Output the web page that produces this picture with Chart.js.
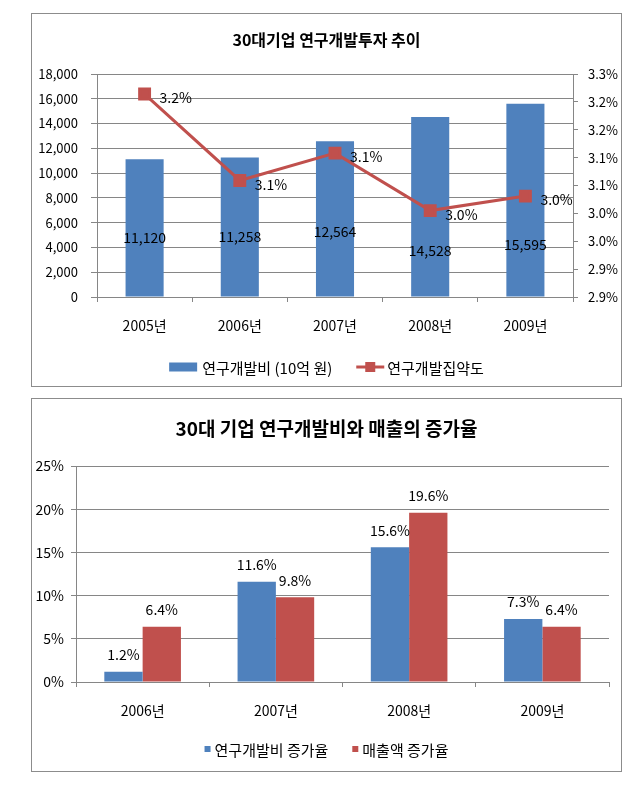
<!DOCTYPE html>
<html>
<head>
    <meta charset="utf-8">
    <title>30대 기업 연구개발</title>
    <style>
        body {
            margin: 0;
            background: #fff;
            font-family: 'Noto Sans CJK KR', sans-serif;
        }

        .chart-box {
            position: absolute;
            left: 31px;
            width: 589px;
            height: 372px;
            border: 1px solid #8c8c8c;
        }

        #box1 { top: 13px; }
        #box2 { top: 398px; }

        canvas { display: block; }
    </style>
    <script src="https://cdn.jsdelivr.net/npm/chart.js"></script>
</head>
<body>

    <div class="chart-box" id="box1"><canvas id="rdChart" width="589" height="372"></canvas></div>
    <div class="chart-box" id="box2"><canvas id="growthChart" width="589" height="372"></canvas></div>

    <script>
        // chart 1 data
        const years1 = ['2005년', '2006년', '2007년', '2008년', '2009년'];
        const rdSpend = [11120, 11258, 12564, 14528, 15595];
        const rdIntensity = [3.264, 3.109, 3.158, 3.055, 3.081];
        const intensityLabels = ['3.2%', '3.1%', '3.1%', '3.0%', '3.0%'];
        const rightTickLabels = ['2.9%', '2.9%', '3.0%', '3.0%', '3.1%', '3.1%', '3.2%', '3.2%', '3.3%'];

        // chart 2 data
        const years2 = ['2006년', '2007년', '2008년', '2009년'];
        const rdGrowth = [1.2, 11.6, 15.6, 7.3];
        const salesGrowth = [6.4, 9.8, 19.6, 6.4];

        const FONT = "'Noto Sans CJK KR', sans-serif";
        const BLUE = '#4F81BD';
        const RED = '#C0504D';
        const GRID = '#868686';

        Chart.defaults.font.family = FONT;
        Chart.defaults.font.size = 13;
        Chart.defaults.color = '#000';

        // title + legend drawn inside the frame
        const frameText = {
            id: 'frameText',
            afterDraw(chart, args, opts) {
                const ctx = chart.ctx;
                ctx.save();
                ctx.fillStyle = '#000';
                ctx.textBaseline = 'middle';
                ctx.textAlign = 'center';
                ctx.font = 'bold ' + opts.titleSize + 'px ' + FONT;
                ctx.fillText(opts.title, chart.width / 2, opts.titleY);

                ctx.font = opts.legendSize + 'px ' + FONT;
                ctx.textAlign = 'left';
                const items = opts.items;
                const widths = items.map(it => it.w + it.gap + ctx.measureText(it.text).width);
                const total = widths.reduce((a, b) => a + b, 0) + opts.itemGap * (items.length - 1);
                let x = (chart.width - total) / 2;
                const y = opts.legendY;
                items.forEach((it, i) => {
                    ctx.fillStyle = it.color;
                    if (it.type === 'line') {
                        ctx.strokeStyle = it.color;
                        ctx.lineWidth = 3;
                        ctx.beginPath();
                        ctx.moveTo(x, y);
                        ctx.lineTo(x + it.w, y);
                        ctx.stroke();
                        ctx.fillRect(x + it.w / 2 - 5, y - 5, 10, 10);
                    } else {
                        ctx.fillRect(x, y - it.h / 2, it.w, it.h);
                    }
                    ctx.fillStyle = '#000';
                    ctx.fillText(it.text, x + it.w + it.gap, y + 1);
                    x += widths[i] + opts.itemGap;
                });
                ctx.restore();
            }
        };

        const rdLabels = {
            id: 'rdLabels',
            afterDatasetsDraw(chart) {
                const ctx = chart.ctx;
                const yScale = chart.scales.y;
                // where Excel left the bar labels, in axis units
                const anchor = [4760, 4840, 5250, 3710, 4200];
                ctx.save();
                ctx.fillStyle = '#000';
                ctx.textBaseline = 'middle';
                ctx.font = '14px ' + FONT;
                ctx.textAlign = 'center';
                chart.getDatasetMeta(1).data.forEach((bar, i) => {
                    ctx.fillText(rdSpend[i].toLocaleString('en-US'), bar.x, yScale.getPixelForValue(anchor[i]));
                });
                ctx.textAlign = 'left';
                chart.getDatasetMeta(0).data.forEach((pt, i) => {
                    ctx.fillText(intensityLabels[i], pt.x + 15, pt.y + 4);
                });
                ctx.restore();
            }
        };

        const growthLabels = {
            id: 'growthLabels',
            afterDatasetsDraw(chart) {
                const ctx = chart.ctx;
                ctx.save();
                ctx.fillStyle = '#000';
                ctx.textBaseline = 'middle';
                ctx.textAlign = 'center';
                ctx.font = '14px ' + FONT;
                chart.data.datasets.forEach((ds, d) => {
                    chart.getDatasetMeta(d).data.forEach((bar, i) => {
                        ctx.fillText(ds.data[i].toFixed(1) + '%', bar.x, bar.y - 17);
                    });
                });
                ctx.restore();
            }
        };

        const rdChart = new Chart(document.getElementById('rdChart'), {
            type: 'bar',
            data: {
                labels: years1,
                datasets: [{
                    type: 'line',
                    label: '연구개발집약도',
                    data: rdIntensity,
                    yAxisID: 'y1',
                    borderColor: RED,
                    backgroundColor: RED,
                    borderWidth: 3,
                    pointStyle: 'rect',
                    pointRadius: 7,
                    order: 0
                }, {
                    label: '연구개발비 (10억 원)',
                    data: rdSpend,
                    backgroundColor: BLUE,
                    barPercentage: 0.4,
                    categoryPercentage: 1,
                    order: 1
                }]
            },
            options: {
                responsive: false,
                animation: false,
                layout: { padding: { top: 60, left: 0, right: 0, bottom: 49 } },
                plugins: {
                    legend: { display: false },
                    tooltip: { enabled: false },
                    frameText: {
                        title: '30대기업 연구개발투자 추이',
                        titleSize: 16,
                        titleY: 26,
                        legendY: 353,
                        legendSize: 15,
                        itemGap: 24,
                        items: [
                            { type: 'box', color: BLUE, w: 28, h: 9, gap: 5, text: '연구개발비 (10억 원)' },
                            { type: 'line', color: RED, w: 28, gap: 3, text: '연구개발집약도' }
                        ]
                    }
                },
                scales: {
                    x: {
                        afterFit: s => { s.height = 40; },
                        grid: { drawOnChartArea: false, color: GRID, tickLength: 5 },
                        border: { color: GRID },
                        ticks: { padding: 15, font: { size: 14 } }
                    },
                    y: {
                        position: 'left',
                        min: 0,
                        max: 18000,
                        afterFit: s => { s.width = 65; },
                        grid: { color: GRID, tickLength: 6 },
                        border: { color: GRID },
                        ticks: {
                            stepSize: 2000,
                            padding: 13,
                            callback: v => v.toLocaleString('en-US')
                        }
                    },
                    y1: {
                        position: 'right',
                        min: 2.9,
                        max: 3.3,
                        afterFit: s => { s.width = 48; },
                        grid: { drawOnChartArea: false, color: GRID, tickLength: 5 },
                        border: { color: GRID },
                        ticks: {
                            stepSize: 0.05,
                            padding: 10,
                            callback: (v, i) => rightTickLabels[i]
                        }
                    }
                }
            },
            plugins: [frameText, rdLabels]
        });

        const growthChart = new Chart(document.getElementById('growthChart'), {
            type: 'bar',
            data: {
                labels: years2,
                datasets: [{
                    label: '연구개발비 증가율',
                    data: rdGrowth,
                    backgroundColor: BLUE
                }, {
                    label: '매출액 증가율',
                    data: salesGrowth,
                    backgroundColor: RED
                }]
            },
            options: {
                responsive: false,
                animation: false,
                categoryPercentage: 0.575,
                barPercentage: 1,
                layout: { padding: { top: 67, left: 0, right: 12, bottom: 49 } },
                plugins: {
                    legend: { display: false },
                    tooltip: { enabled: false },
                    frameText: {
                        title: '30대 기업 연구개발비와 매출의 증가율',
                        titleSize: 19,
                        titleY: 30,
                        legendY: 350,
                        legendSize: 15,
                        itemGap: 24,
                        items: [
                            { type: 'box', color: BLUE, w: 6, h: 6, gap: 4, text: '연구개발비 증가율' },
                            { type: 'box', color: RED, w: 6, h: 6, gap: 4, text: '매출액 증가율' }
                        ]
                    }
                },
                scales: {
                    x: {
                        afterFit: s => { s.height = 40; },
                        grid: { drawOnChartArea: false, color: GRID, tickLength: 5 },
                        border: { color: GRID },
                        ticks: { padding: 15, font: { size: 14 } }
                    },
                    y: {
                        min: 0,
                        max: 25,
                        afterFit: s => { s.width = 44; },
                        grid: { color: GRID, tickLength: 5 },
                        border: { color: GRID },
                        ticks: {
                            stepSize: 5,
                            padding: 7,
                            font: { size: 14 },
                            callback: v => v + '%'
                        }
                    }
                }
            },
            plugins: [frameText, growthLabels]
        });
    </script>

</body>
</html>
